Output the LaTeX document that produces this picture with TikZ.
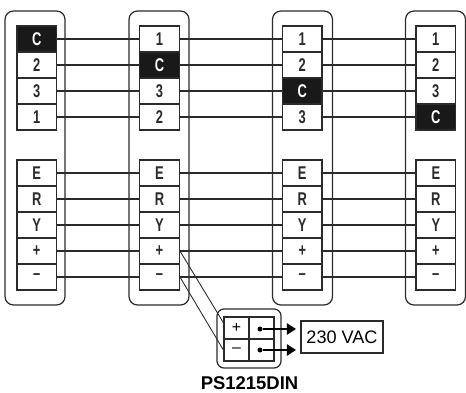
\documentclass[tikz,border=0pt]{standalone}
\usepackage{fontspec}
\setmainfont{Liberation Sans}
\newfontfamily\termfont[FakeStretch=0.7]{Liberation Sans}
\usetikzlibrary{arrows.meta}
\definecolor{inkgray}{HTML}{2B2B2B}
\tikzset{
	panel/.style={draw=inkgray,line width=0.7pt,rounded corners=0.17cm},
	wire/.style={draw=inkgray,line width=0.7pt},
	term/.style={draw=inkgray,fill=white,line width=0.8pt,inner sep=0pt,minimum width=0.79cm,minimum height=0.52cm,font=\termfont\bfseries\fontsize{10.5}{11}\selectfont,text=inkgray},
	term 1/.style={term},
	term 2/.style={term},
	term 3/.style={term},
	term C/.style={term,fill=black!90,text=white},
	cell/.style={draw=inkgray,line width=0.7pt,inner sep=0pt,minimum width=0.5cm,minimum height=0.44cm,font=\fontsize{9}{10}\selectfont},
	dot/.style={circle,fill=black,inner sep=0pt,minimum size=0.1cm},
	feed/.style={-{Triangle[length=5.2pt,width=6.4pt]},line width=1.1pt,black}
}
\begin{document}
\begin{tikzpicture}[x=0.02cm,y=-0.02cm]
	\useasboundingbox (0,0) rectangle (466,392);
	% housings
	\foreach \p in {5,129,272.5,405.5}{
		\draw [panel] (\p,11) rectangle (\p+60,305);
	}
	% terminals
	\foreach \c/\x/\lst in {1/36.7/{C,2,3,1},2/159.5/{1,C,3,2},3/302.3/{1,2,C,3},4/435.8/{1,2,3,C}}{
		\foreach [count=\r] \l in \lst {
			\node [term \l] (u\c\r) at (\x,13+26*\r) {\l};
		}
		\foreach [count=\r] \l in {E,R,Y,+,–}{
			\node [term] (l\c\r) at (\x,147+26*\r) {\l};
		}
	}
	% wires
	\foreach \c/\d in {1/2,2/3,3/4}{
		\foreach \r in {1,...,4}{
			\draw [wire] (u\c\r) -- (u\d\r);
		}
		\foreach \r in {1,...,5}{
			\draw [wire] (l\c\r) -- (l\d\r);
		}
	}
	% power supply
	\draw [panel,rounded corners=0.14cm] (217,309) rectangle (281,368);
	\node [cell] (psplus) at (236.5,328) {+};
	\node [cell] (psminus) at (236.5,350) {–};
	\node [cell] (psout) at (261.5,328) {};
	\node [cell] (psret) at (261.5,350) {};
	\node [dot] (dotout) at (260,329) {};
	\node [dot] (dotret) at (260,350) {};
	\coordinate (tipout) at (296,329);
	\coordinate (tipret) at (296,350);
	\node [draw=inkgray,line width=0.8pt,inner sep=0pt,minimum width=1.64cm,minimum height=0.64cm,font=\fontsize{10.3}{12}\selectfont] (vac) at (342,337) {230 VAC};
	\node [inner sep=0pt,font=\bfseries\fontsize{10.5}{12}\selectfont] (pslabel) at (249.5,383.5) {PS1215DIN};
	\draw [feed] (dotout) -- (tipout);
	\draw [feed] (dotret) -- (tipret);
	\draw [wire,line width=0.5pt] (l24.east) -- (psplus.158);
	\draw [wire,line width=0.5pt] (l25.east) -- (psminus.west);
\end{tikzpicture}
\end{document}
